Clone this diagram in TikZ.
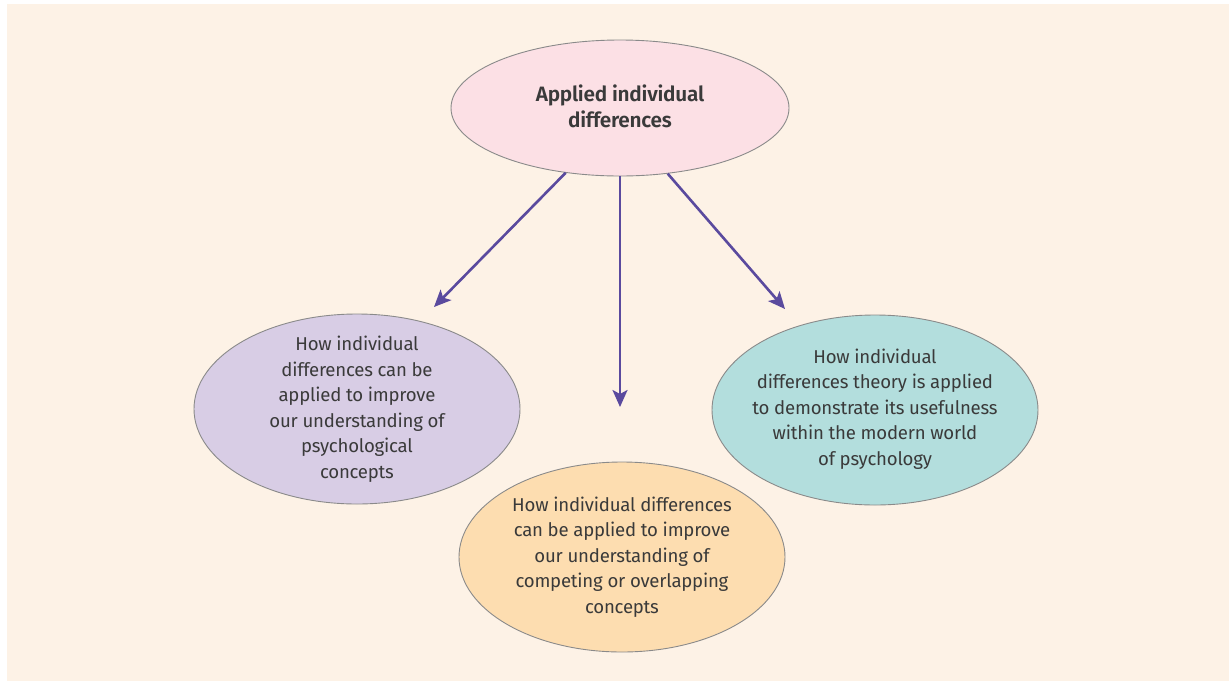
\documentclass[tikz,border=0pt]{standalone}
\usepackage{fontspec}
\setmainfont{Fira Sans}[LetterSpace=-1.2,BoldFont=Fira Sans SemiBold]
\usetikzlibrary{shapes.geometric,arrows.meta}
\definecolor{paper}{HTML}{FDF2E6}
\definecolor{pinkfill}{HTML}{FCE0E5}
\definecolor{lilacfill}{HTML}{D8CDE5}
\definecolor{peachfill}{HTML}{FDDDB0}
\definecolor{tealfill}{HTML}{B3DEDD}
\definecolor{rimgray}{HTML}{8A8A8A}
\definecolor{inkgray}{HTML}{3A3A3A}
\definecolor{arrowpurple}{HTML}{5A4A9E}
\tikzset{
  bubble/.style={ellipse, draw=rimgray, line width=0.9pt, inner sep=0pt},
  bubbletext/.style={text=inkgray, align=center, inner sep=0pt,
    font=\fontsize{18.6}{25.5}\selectfont},
  link/.style={draw=arrowpurple, line width=2.6pt,
    -{Stealth[length=17pt,width=15pt,inset=4pt]}},
}
\begin{document}
\begin{tikzpicture}[x=1pt,y=-1pt]
  \useasboundingbox (0,0) rectangle (1229,681);
  \fill[paper] (7,4) rectangle (1229,681);

  % central topic
  \node[bubble, fill=pinkfill, minimum width=338pt, minimum height=136pt] (hub) at (620,108) {};
  \node[bubbletext, font=\fontsize{20.8}{26}\selectfont\bfseries] (hubtext) at (620,106)
    {Applied individual\\differences};

  % three applications
  \node[bubble, fill=lilacfill, minimum width=326pt, minimum height=190pt] (left) at (357,409) {};
  \node[bubbletext] (lefttext) at (357,409)
    {How individual\\differences can be\\applied to improve\\our understanding of\\psychological\\concepts};

  \node[bubble, fill=peachfill, minimum width=326pt, minimum height=190pt] (bottom) at (622,557) {};
  \node[bubbletext] (bottomtext) at (622,557)
    {How individual differences\\can be applied to improve\\our understanding of\\competing or overlapping\\concepts};

  \node[bubble, fill=tealfill, minimum width=326pt, minimum height=190pt] (right) at (875,410) {};
  \node[bubbletext] (righttext) at (875,409)
    {How individual\\differences theory is applied\\to demonstrate its usefulness\\within the modern world\\of psychology};

  % arrow ends
  \coordinate (endL) at (434,307);
  \coordinate (endM) at (620,407);
  \coordinate (endR) at (785,309);

  \draw[link] (hub.230.6) -- (endL);
  \draw[link] (hub.south) -- (endM);
  \draw[link] (hub.306.7) -- (endR);
\end{tikzpicture}
\end{document}
